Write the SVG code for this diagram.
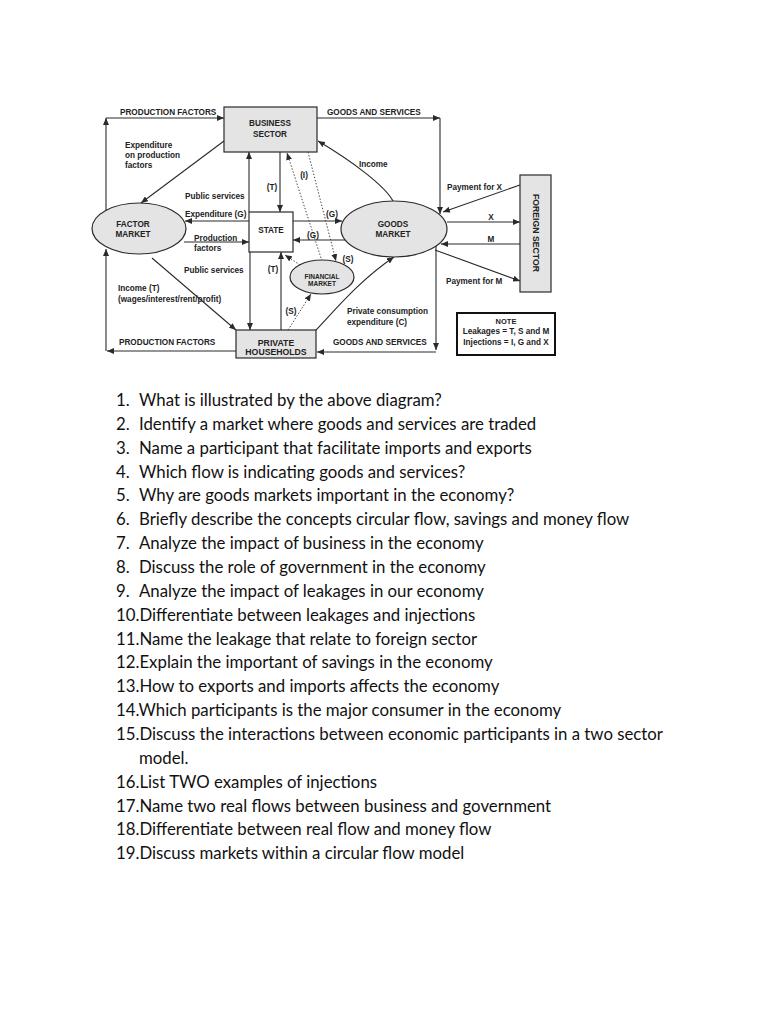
<svg xmlns="http://www.w3.org/2000/svg" width="768" height="1024" viewBox="0 0 768 1024">
<style>
.bg{fill:#ffffff}
.node{fill:#e4e4e4;stroke:#2a2a2a;stroke-width:1.2}
.st{fill:#ffffff;stroke:#2a2a2a;stroke-width:1.2}
.ln{fill:none;stroke:#2a2a2a;stroke-width:1.1;marker-end:url(#ah)}
.dt{fill:none;stroke:#444;stroke-width:1;stroke-dasharray:1.4 1.8;marker-end:url(#ah)}
.t{font-family:"Liberation Sans",Arial,sans-serif;font-weight:bold;font-size:8.2px;fill:#222}
.tc{font-family:"Liberation Sans",Arial,sans-serif;font-weight:bold;font-size:8.2px;fill:#222;text-anchor:middle}
.q{font-family:Lato,"Open Sans",sans-serif;font-size:16.8px;fill:#111}
</style>
<defs>
<marker id="ah" markerUnits="userSpaceOnUse" markerWidth="7" markerHeight="6" viewBox="0 0 7 6" refX="7" refY="3" orient="auto"><path d="M0,0 L7,3 L0,6 z" fill="#2a2a2a"/></marker>
</defs>
<rect class="bg" x="0" y="0" width="768" height="1024"/>

<g id="connectors">
<path class="ln" d="M106,211 L106,118"/>
<path class="ln" d="M106,118 L224,118"/>
<path class="ln" d="M236,351 L107,351"/>
<path class="ln" d="M106,351 L106,249"/>
<path class="ln" d="M224,141 L141,203"/>
<path class="ln" d="M317,118 L440,118"/>
<path class="ln" d="M440,118 L440,214"/>
<path class="ln" d="M393,201 C385,186 352,161 318,141"/>
<path class="ln" d="M520,185 L443,212"/>
<path class="ln" d="M447,222 L520,222"/>
<path class="ln" d="M520,244 L441,244"/>
<path class="ln" d="M435,250 L520,281"/>
<path class="ln" d="M436,246 L436,350"/>
<path class="ln" d="M436,352 L317,352"/>
<path class="ln" d="M316,330 C336,309 360,280 394,257"/>
<path class="ln" d="M152,258 L236,330"/>
<path class="ln" d="M249,212 L249,152"/>
<path class="ln" d="M280,152 L280,212"/>
<path class="ln" d="M249,221 L185,221"/>
<path class="ln" d="M184,242 L249,242"/>
<path class="ln" d="M293,221 L342,221"/>
<path class="ln" d="M346,240 L293,240"/>
<path class="ln" d="M250,252 L250,330"/>
<path class="ln" d="M281,330 L281,252"/>
<path class="dt" d="M322,261 L287,153"/>
<path class="dt" d="M308,152 L336,261"/>
<path class="dt" d="M300,265 L285,255"/>
<path class="dt" d="M288,330 L311,294"/>
</g>

<g id="business-sector">
<rect class="node" x="224" y="107" width="93" height="45"/>
<text class="tc" x="270" y="126">BUSINESS</text>
<text class="tc" x="270" y="137">SECTOR</text>
</g>
<g id="factor-market">
<ellipse class="node" cx="139" cy="228.5" rx="47" ry="25.5"/>
<text class="tc" x="133" y="227">FACTOR</text>
<text class="tc" x="133" y="237">MARKET</text>
</g>
<g id="state">
<rect class="st" x="249" y="212" width="44" height="40"/>
<text class="tc" x="271" y="233">STATE</text>
</g>
<g id="goods-market">
<ellipse class="node" cx="394" cy="229" rx="53" ry="28"/>
<text class="tc" x="393" y="227">GOODS</text>
<text class="tc" x="393" y="237">MARKET</text>
</g>
<g id="financial-market">
<ellipse class="node" cx="322" cy="277" rx="32" ry="17"/>
<text class="tc" x="322" y="279" style="font-size:6.5px">FINANCIAL</text>
<text class="tc" x="322" y="286" style="font-size:6.5px">MARKET</text>
</g>
<g id="private-households">
<rect class="node" x="236" y="330" width="80" height="28"/>
<text class="tc" x="276" y="346" style="font-size:8.7px">PRIVATE</text>
<text class="tc" x="276" y="355" style="font-size:8.7px">HOUSEHOLDS</text>
</g>
<g id="foreign-sector">
<rect class="node" x="520" y="175" width="31" height="117"/>
<text class="tc" transform="translate(533,233) rotate(90)" style="font-size:8.7px">FOREIGN SECTOR</text>
</g>
<g id="note">
<rect x="457" y="313" width="98" height="42" fill="#fff" stroke="#111" stroke-width="2"/>
<text class="tc" x="506" y="324" style="font-size:7.5px">NOTE</text>
<text class="tc" x="506" y="334">Leakages = T, S and M</text>
<text class="tc" x="506" y="345">Injections = I, G and X</text>
</g>

<g id="labels">
<text class="t" x="120" y="115">PRODUCTION FACTORS</text>
<text class="t" x="327" y="115">GOODS AND SERVICES</text>
<text class="t" x="125" y="148">Expenditure</text>
<text class="t" x="125" y="158">on production</text>
<text class="t" x="125" y="168">factors</text>
<text class="t" x="359" y="167">Income</text>
<text class="tc" x="272" y="190">(T)</text>
<text class="tc" x="304" y="178">(I)</text>
<text class="t" x="185" y="199">Public services</text>
<text class="t" x="185" y="217">Expenditure (G)</text>
<text class="t" x="194" y="241">Production</text>
<text class="t" x="194" y="251">factors</text>
<text class="tc" x="332" y="217">(G)</text>
<text class="tc" x="313" y="238">(G)</text>
<text class="tc" x="348" y="262">(S)</text>
<text class="t" x="184" y="273">Public services</text>
<text class="tc" x="273" y="272">(T)</text>
<text class="t" x="118" y="291">Income (T)</text>
<text class="t" x="118" y="302">(wages/interest/rent/profit)</text>
<text class="tc" x="291" y="314">(S)</text>
<text class="t" x="347" y="314">Private consumption</text>
<text class="t" x="347" y="325">expenditure (C)</text>
<text class="t" x="119" y="345">PRODUCTION FACTORS</text>
<text class="t" x="333" y="345">GOODS AND SERVICES</text>
<text class="t" x="447" y="190">Payment for X</text>
<text class="tc" x="491" y="220">X</text>
<text class="tc" x="491" y="242">M</text>
<text class="t" x="446" y="284">Payment for M</text>
</g>

<g id="questions">
<text class="q" x="116" y="406">1.</text><text class="q" x="139" y="406">What is illustrated by the above diagram?</text>
<text class="q" x="116" y="430">2.</text><text class="q" x="139" y="430">Identify a market where goods and services are traded</text>
<text class="q" x="116" y="454">3.</text><text class="q" x="139" y="454">Name a participant that facilitate imports and exports</text>
<text class="q" x="116" y="478">4.</text><text class="q" x="139" y="478">Which flow is indicating goods and services?</text>
<text class="q" x="116" y="501">5.</text><text class="q" x="139" y="501">Why are goods markets important in the economy?</text>
<text class="q" x="116" y="525">6.</text><text class="q" x="139" y="525">Briefly describe the concepts circular flow, savings and money flow</text>
<text class="q" x="116" y="549">7.</text><text class="q" x="139" y="549">Analyze the impact of business in the economy</text>
<text class="q" x="116" y="573">8.</text><text class="q" x="139" y="573">Discuss the role of government in the economy</text>
<text class="q" x="116" y="597">9.</text><text class="q" x="139" y="597">Analyze the impact of leakages in our economy</text>
<text class="q" x="116" y="621">10.Differentiate between leakages and injections</text>
<text class="q" x="116" y="645">11.Name the leakage that relate to foreign sector</text>
<text class="q" x="116" y="668">12.Explain the important of savings in the economy</text>
<text class="q" x="116" y="692">13.How to exports and imports affects the economy</text>
<text class="q" x="116" y="716">14.Which participants is the major consumer in the economy</text>
<text class="q" x="116" y="740">15.Discuss the interactions between economic participants in a two sector</text>
<text class="q" x="139" y="764">model.</text>
<text class="q" x="116" y="788">16.List TWO examples of injections</text>
<text class="q" x="116" y="812">17.Name two real flows between business and government</text>
<text class="q" x="116" y="835">18.Differentiate between real flow and money flow</text>
<text class="q" x="116" y="859">19.Discuss markets within a circular flow model</text>
</g>
</svg>
